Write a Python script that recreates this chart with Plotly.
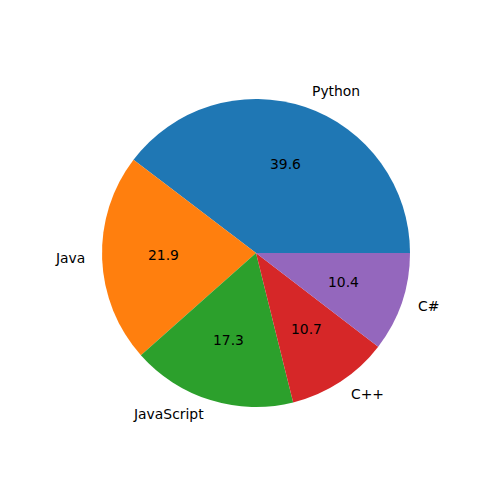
import math
import plotly.graph_objects as go

labels = ["Python", "Java", "JavaScript", "C++", "C#"]
values = [39.6, 21.9, 17.3, 10.7, 10.4]
colors = ["#1f77b4", "#ff7f0e", "#2ca02c", "#d62728", "#9467bd"]

W = H = 500
cx, cy, R = 256, 253, 154  # pixels
dom_x = [(cx - R) / W, (cx + R) / W]
dom_y = [1 - (cy + R) / H, 1 - (cy - R) / H]

total = sum(values)
# plotly's counterclockwise mode ends the first slice at `rotation`;
# shift so the first slice starts at 3 o'clock like matplotlib.
rot = 90 - 360 * values[0] / total

fig = go.Figure(go.Pie(
    labels=labels, values=values, sort=False,
    direction="counterclockwise", rotation=rot,
    marker=dict(colors=colors, line=dict(width=0)),
    textinfo="none", hoverinfo="skip", showlegend=False,
    domain=dict(x=dom_x, y=dom_y),
))

font = dict(family="DejaVu Sans", size=13.9, color="black")
tdy = 1  # small upward nudge of text in pixels
start = 0.0
anns = []
for lab, v in zip(labels, values):
    frac = v / total
    mid = math.radians((start + frac / 2) * 360)
    start += frac
    c, s = math.cos(mid), math.sin(mid)
    lx = (cx + 1.1 * R * c) / W
    ly = 1 - (cy - 1.1 * R * s - tdy) / H
    anns.append(dict(x=lx, y=ly, xref="paper", yref="paper", text=lab,
                     showarrow=False, font=font,
                     xanchor="left" if c > 0 else "right", yanchor="middle"))
    px = (cx + 0.6 * R * c) / W
    py = 1 - (cy - 0.6 * R * s - tdy) / H
    anns.append(dict(x=px, y=py, xref="paper", yref="paper",
                     text=f"{v:.1f}", showarrow=False, font=font,
                     xanchor="center", yanchor="middle"))

fig.update_layout(width=W, height=H, margin=dict(l=0, r=0, t=0, b=0),
                  paper_bgcolor="white", plot_bgcolor="white",
                  annotations=anns)
fig.write_html("out.html")
